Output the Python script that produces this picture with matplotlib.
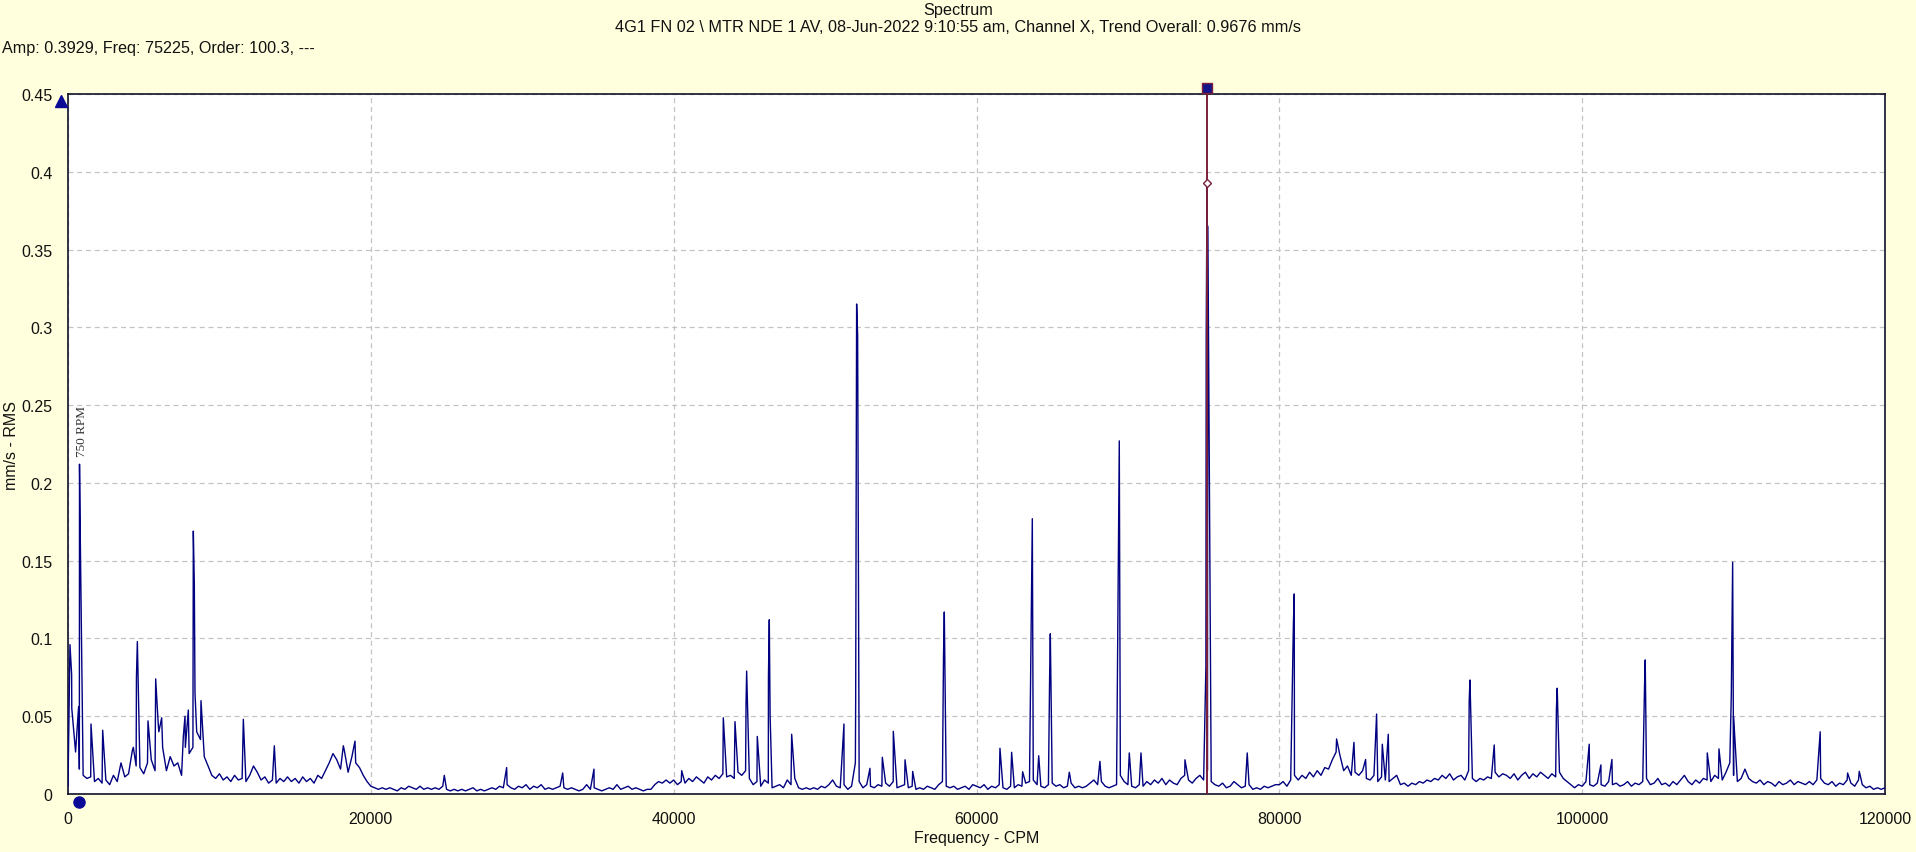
import numpy as np
import matplotlib
matplotlib.use("Agg")
import matplotlib.pyplot as plt

plt.rcParams['font.family'] = ['Liberation Sans', 'DejaVu Sans']

# ---------------- data (amplitudes in 0.001 mm/s) ----------------
base_step = 250  # CPM between baseline samples, 0 .. 120000
base_amp_milli = [
    5, 55, 27, 16, 12, 10, 11, 8, 10, 7, 9, 6, 12, 8, 20, 11, 13, 28, 18, 17,
    13, 20, 22, 15, 40, 30, 15, 24, 18, 20, 12, 30, 26, 30, 40, 35, 24, 18, 12, 10,
    13, 9, 11, 8, 12, 9, 10, 8, 12, 18, 14, 9, 11, 7, 9, 7, 10, 8, 11, 8,
    10, 7, 11, 8, 10, 7, 12, 10, 15, 20, 26, 22, 16, 28, 14, 24, 20, 17, 12, 8,
    5, 4, 3, 4, 3, 4, 3, 2, 4, 3, 5, 4, 3, 5, 3, 4, 3, 4, 3, 5,
    3, 2, 3, 2, 3, 2, 3, 4, 2, 3, 2, 3, 4, 3, 5, 4, 6, 4, 3, 5,
    4, 6, 3, 5, 4, 6, 3, 4, 3, 4, 5, 4, 3, 4, 3, 2, 3, 6, 3, 4,
    3, 2, 3, 4, 3, 6, 3, 4, 5, 3, 4, 3, 2, 3, 3, 6, 8, 7, 9, 7,
    9, 6, 8, 7, 10, 8, 11, 9, 7, 11, 9, 12, 10, 13, 11, 12, 10, 14, 12, 15,
    10, 6, 8, 5, 9, 7, 4, 5, 6, 4, 9, 6, 10, 4, 3, 4, 3, 4, 3, 5,
    4, 6, 9, 5, 4, 6, 3, 5, 20, 8, 4, 6, 5, 4, 6, 5, 7, 5, 8, 4,
    5, 6, 4, 5, 3, 4, 3, 5, 4, 3, 6, 8, 5, 4, 5, 3, 4, 5, 3, 6,
    5, 4, 6, 3, 5, 4, 6, 4, 3, 5, 4, 6, 5, 7, 8, 9, 6, 5, 4, 6,
    7, 5, 6, 4, 5, 7, 4, 5, 4, 5, 7, 9, 6, 8, 5, 4, 5, 6, 12, 8,
    6, 5, 4, 6, 5, 8, 6, 9, 7, 10, 6, 9, 7, 6, 10, 12, 9, 7, 10, 12,
    9, 15, 8, 6, 5, 7, 4, 5, 8, 6, 4, 5, 6, 3, 4, 3, 5, 4, 5, 6,
    6, 8, 5, 9, 12, 9, 12, 10, 14, 11, 15, 12, 17, 16, 22, 27, 25, 15, 18, 12,
    14, 12, 15, 10, 9, 12, 8, 11, 9, 8, 10, 12, 6, 7, 5, 7, 6, 8, 7, 9,
    8, 10, 9, 12, 10, 13, 9, 11, 12, 9, 15, 10, 8, 10, 9, 11, 10, 14, 11, 13,
    12, 10, 13, 9, 12, 14, 10, 13, 11, 14, 12, 10, 13, 11, 14, 10, 8, 6, 4, 6,
    5, 8, 6, 5, 7, 6, 5, 8, 6, 7, 5, 6, 8, 5, 7, 6, 8, 10, 6, 7,
    10, 6, 7, 5, 8, 6, 9, 12, 8, 6, 9, 7, 10, 9, 8, 12, 10, 9, 14, 20,
    12, 8, 10, 16, 10, 8, 7, 9, 6, 8, 7, 5, 8, 6, 7, 9, 6, 8, 7, 6,
    8, 6, 9, 10, 7, 6, 8, 5, 7, 6, 9, 7, 5, 9, 6, 4, 5, 3, 4, 3, 4,
]

peak_cpm = [130, 240, 700, 760, 810, 1519, 2290, 4314, 4520, 4580,
            5283, 5790, 5966, 6186, 7617, 7727, 7947, 8277, 8343, 8387,
            8500, 8784, 11580, 13627, 18184, 18954, 24853, 28970, 32670, 34737,
            40530, 43278, 44050, 44780, 44820, 45522, 46260, 46315, 46370, 47793,
            51247, 52020, 52083, 52150, 52963, 53780, 54506, 55280, 55785, 57820,
            57873, 61549, 62320, 63047, 63640, 63686, 64108, 64830, 64875, 66130,
            68150, 69380, 69430, 70090, 70863, 73767, 75150, 75170, 75225, 75280,
            77880, 80930, 80985, 83780, 84928, 85697, 86424, 86800, 87195, 92540,
            92590, 94192, 98300, 98352, 100465, 101238, 101965, 104120, 104165, 108262,
            109035, 109850, 109938, 110000, 115720, 117530, 118300]
peak_amp_milli = [96, 77, 56, 212, 166, 45, 41, 30, 75, 98,
                  47, 74, 44, 49, 37, 50, 54, 169, 135, 65,
                  40, 60, 48, 31, 31, 34, 12, 17, 13.5, 16,
                  15, 49, 46.5, 58, 79, 37, 76, 112, 50, 38.4,
                  45, 60, 315, 295, 16.5, 23.6, 40.3, 22, 14.5, 88,
                  117, 29.4, 26.8, 14.3, 138, 177, 24.6, 76, 103, 14,
                  21, 166, 227, 26.4, 26.4, 22, 82, 295, 392.9, 365,
                  26.4, 110, 128.6, 35.4, 33.2, 22.2, 51.4, 32, 38.4, 60,
                  73.3, 31.5, 55, 68, 32, 18.7, 22.2, 70, 86.2, 26.4,
                  29, 64, 149, 50, 40, 13.5, 14.6]

cursor_freq = 75225
cursor_amp = 0.3929
rpm_freq = 750

x_ticks = [0, 20000, 40000, 60000, 80000, 100000, 120000]
y_ticks = [0, 0.05, 0.1, 0.15, 0.2, 0.25, 0.3, 0.35, 0.4, 0.45]
y_ticklabels = ['0', '0.05', '0.1', '0.15', '0.2', '0.25', '0.3', '0.35', '0.4', '0.45']

title1 = 'Spectrum'
title2 = '4G1 FN 02 \\ MTR NDE 1 AV, 08-Jun-2022 9:10:55 am, Channel X, Trend Overall: 0.9676 mm/s'
info = 'Amp: 0.3929, Freq: 75225, Order: 100.3, ---'

# ---------------- build series ----------------
base_f = np.arange(len(base_amp_milli)) * base_step
freq = np.concatenate([base_f, np.array(peak_cpm, dtype=float)])
amp = np.concatenate([np.array(base_amp_milli, float), np.array(peak_amp_milli, float)]) / 1000.0
order = np.argsort(freq, kind='stable')
freq = freq[order]
amp = amp[order]

# ---------------- figure ----------------
BG = '#FFFFDD'
NAVY = '#000080'
MAROON = '#7B1F3A'
W, H = 1916, 853
fig = plt.figure(figsize=(W / 100, H / 100), dpi=100, facecolor=BG)
ax = fig.add_axes([68 / W, 1 - 795 / H, (1885 - 68) / W, 700 / H])
ax.set_facecolor('white')

ax.plot(freq, amp, color=NAVY, lw=1.0, zorder=3)

ax.set_xlim(0, 120000)
ax.set_ylim(0, 0.45)
ax.set_xticks(x_ticks)
ax.set_xticklabels([str(t) for t in x_ticks])
ax.set_yticks(y_ticks)
ax.set_yticklabels(y_ticklabels)
ax.tick_params(axis='both', length=0, labelsize=11.5, colors='#111111')
ax.tick_params(axis='y', pad=11)
ax.tick_params(axis='x', pad=12)

ax.grid(True, color='#C4C4C4', linestyle=(0, (4, 3)), lw=0.9, zorder=1)
for s in ax.spines.values():
    s.set_color('#10102A')
    s.set_linewidth(1.2)

ax.set_xlabel('Frequency - CPM', fontsize=11.5, color='#111111')
ax.xaxis.set_label_coords(0.5, -0.052)
ax.set_ylabel('mm/s - RMS', fontsize=11.5, color='#111111')
ax.yaxis.set_label_coords(-0.0272, 0.5)

# cursor
ax.axvline(cursor_freq, color=MAROON, lw=1.4, zorder=4)
ax.plot([cursor_freq], [cursor_amp], marker='D', ms=4, mfc='white', mec=MAROON, mew=1.0, zorder=6)
ax.plot([cursor_freq], [0.4536], marker='s', ms=7.5, mfc='#14148C', mec=MAROON, mew=1.0,
        clip_on=False, zorder=6)

# left triangle marker and run-speed dot
ax.plot([-462], [0.4458], marker='^', ms=8.5, color='#0A0A96', clip_on=False, zorder=6)
ax.plot([rpm_freq], [-0.0052], marker='o', ms=8, color='#0A0A96', clip_on=False, zorder=6)
ax.text(rpm_freq + 170, 0.2175, '750 RPM', rotation=90, ha='center', va='bottom',
        fontsize=9.5, family=['Liberation Serif', 'DejaVu Serif'], color='#333333', zorder=5)

# titles
fig.text(0.5, 1 - 10 / H, title1, ha='center', va='center', fontsize=11.7, color='#111111')
fig.text(0.5, 1 - 28 / H, title2, ha='center', va='center', fontsize=11.7, color='#111111')
fig.text(2 / W, 1 - 49 / H, info, ha='left', va='center', fontsize=11.6, color='#111111')

fig.savefig('out.png', dpi=100, facecolor=BG)
